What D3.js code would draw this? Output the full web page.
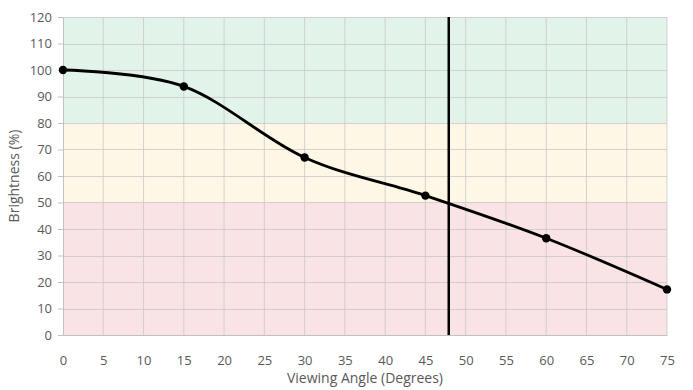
<!DOCTYPE html>
<html><head><meta charset="utf-8">
<script src="https://cdn.jsdelivr.net/npm/d3@7"></script>
<style>body{margin:0;background:#fff}text{font-family:"Open Sans",sans-serif;fill:#595959}</style>
</head><body><svg id="c" width="693" height="390"></svg>
<script>
const angles = [0, 15, 30, 45, 60, 75];
const brightness = [100, 93.8, 67, 52.6, 36.5, 17.2];
const xTicks = d3.range(0, 76, 5);
const yTicks = d3.range(0, 121, 10);
const bands = [{from:80,to:120,color:"#e2f4ea"},{from:50,to:80,color:"#fef7e5"},{from:0,to:50,color:"#f9e3e4"}];
const markerAngle = [47.9];

const svg = d3.select("#c");
const x = d3.scaleLinear().domain([0,75]).range([63,667]);
const y = d3.scaleLinear().domain([0,120]).range([335,17]);

svg.selectAll("rect.band").data(bands).join("rect")
  .attr("x", x(0)).attr("width", x(75)-x(0))
  .attr("y", d=>y(d.to)).attr("height", d=>y(d.from)-y(d.to))
  .attr("fill", d=>d.color);

svg.selectAll("line.vg").data(xTicks.slice(1)).join("line")
  .attr("x1", d=>x(d)).attr("x2", d=>x(d)).attr("y1", y(120)).attr("y2", y(0))
  .attr("stroke","#c8c8c8").attr("stroke-opacity",0.8).attr("stroke-width",1);
svg.selectAll("line.hg").data(yTicks.slice(1)).join("line")
  .attr("y1", d=>Math.round(y(d))+0.5).attr("y2", d=>Math.round(y(d))+0.5).attr("x1", x(0)).attr("x2", x(75))
  .attr("stroke","#c8c8c8").attr("stroke-opacity",0.8).attr("stroke-width",1);

// axes
const yAxis = svg.append("g").attr("transform",`translate(${x(0)},0)`)
  .call(d3.axisLeft(y).tickValues(yTicks).tickSize(5).tickPadding(6));
const xAxis = svg.append("g").attr("transform",`translate(0,${y(0)})`)
  .call(d3.axisBottom(x).tickValues(xTicks).tickSize(0).tickPadding(21));
[yAxis,xAxis].forEach(a=>{
  a.select(".domain").attr("stroke","#c0c0c0");
  a.selectAll(".tick line").attr("stroke","#c0c0c0");
  a.selectAll("text").style("font-size","13px").attr("fill","#595959").style("font-family",'"Open Sans",sans-serif');
});

const pts = angles.map((a,i)=>[a,brightness[i]]);
svg.append("path").datum(pts)
  .attr("d", d3.line().x(d=>x(d[0])).y(d=>y(d[1])).curve(d3.curveCatmullRom.alpha(0)))
  .attr("fill","none").attr("stroke","#000").attr("stroke-width",2.8);
svg.selectAll("circle.p").data(pts).join("circle")
  .attr("cx", d=>x(d[0])).attr("cy", d=>y(d[1])).attr("r",4.2).attr("fill","#000");

svg.selectAll("line.mk").data(markerAngle).join("line")
  .attr("x1", d=>x(d)).attr("x2", d=>x(d)).attr("y1", y(120)).attr("y2", y(0))
  .attr("stroke","#000").attr("stroke-width",2.5);

svg.append("text").attr("x",(x(0)+x(75))/2).attr("y",383).attr("text-anchor","middle")
  .style("font-size","14px").text("Viewing Angle (Degrees)");
svg.append("text").attr("transform",`translate(19,${(y(0)+y(120))/2}) rotate(-90)`).attr("text-anchor","middle")
  .style("font-size","14px").text("Brightness (%)");
</script></body></html>
